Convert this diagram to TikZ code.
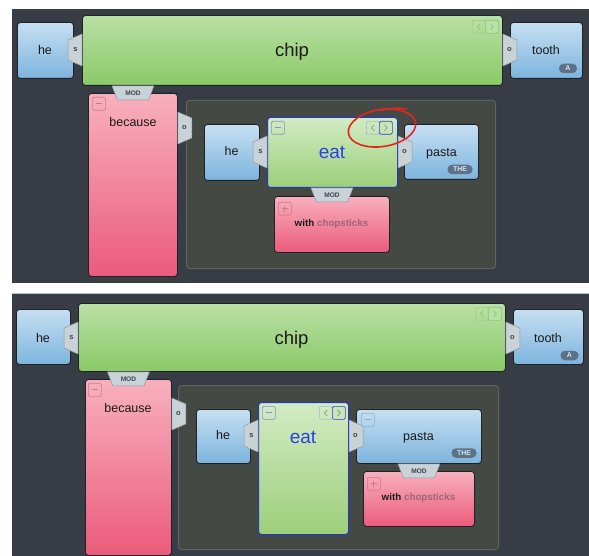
\documentclass[tikz,border=0pt]{standalone}
\usepackage{fontspec}
\setmainfont{Liberation Sans}
\usetikzlibrary{calc}
\definecolor{bg}{HTML}{383C44}
\definecolor{inner}{HTML}{454944}
\definecolor{innerline}{HTML}{5F635D}
\definecolor{bluetop}{HTML}{C6DFF2}
\definecolor{bluebot}{HTML}{7DB4DD}
\definecolor{greentop}{HTML}{B9E0A5}
\definecolor{greenbot}{HTML}{8BC968}
\definecolor{eattop}{HTML}{D2EBC4}
\definecolor{eatbot}{HTML}{9CCF7A}
\definecolor{pinktop}{HTML}{F8B0BE}
\definecolor{pinkbot}{HTML}{EB5B7B}
\definecolor{tabfill}{HTML}{C9D2D6}
\definecolor{tabline}{HTML}{8E979B}
\definecolor{tabtext}{HTML}{3D4348}
\definecolor{badgefill}{HTML}{5C7288}
\definecolor{badgetext}{HTML}{D9E3EC}
\definecolor{eatline}{HTML}{2436C4}
\definecolor{eattext}{HTML}{2A40E6}
\definecolor{boxline}{HTML}{1E2126}
\definecolor{txt}{HTML}{1A1A1A}
\definecolor{chopcol}{HTML}{9E6677}
\definecolor{pinkctl}{HTML}{D07A8A}
\definecolor{bluectl}{HTML}{8FAFCB}
\definecolor{eatctl}{HTML}{8493D0}
\definecolor{navstrong}{HTML}{3142D2}
\definecolor{navfaint}{HTML}{A9B9D6}
\definecolor{navglyph}{HTML}{8694A8}
\definecolor{chipnav}{HTML}{A2CD8C}
\definecolor{chipnav2}{HTML}{93C27C}
\definecolor{redmark}{HTML}{E3261C}
\newcommand\mkbox[6]{\node[#2, minimum width={#5-#3}, minimum height={#6-#4}, anchor=north west] (#1) at (#3,#4) {};}
\newcommand\ltab[3]{\draw[tab] ($(#1.north west)+(0,#2-16)$) -- ++(-14,6) -- ++(0,20) -- ++(14,6) -- cycle;
  \node[tablbl] (#1-lt) at ($(#1.north west)+(-6.5,#2)$) {#3};}
\newcommand\rtab[3]{\draw[tab] ($(#1.north east)+(0,#2-16)$) -- ++(14,6) -- ++(0,20) -- ++(-14,6) -- cycle;
  \node[tablbl] (#1-rt) at ($(#1.north east)+(6.5,#2)$) {#3};}
\newcommand\dtab[2]{\draw[tab] ($(#1.north |- #2.south)+(-21,0)$) -- ++(42,0) -- ++(-5.5,14) -- ++(-31,0) -- cycle;
  \node[modlbl] (#1-mod) at ($(#1.north |- #2.south)+(0,7.5)$) {MOD};}
\newcommand\ctlbox[5]{\node[ctl, draw=#4, anchor=north west] (#1) at (#2,#3) {};
  \draw[#4, line width=0.8pt] ($(#1.center)+(-3,0)$) -- ($(#1.center)+(3,0)$);
  \ifx#5p\draw[#4, line width=0.8pt] ($(#1.center)+(0,-3)$) -- ($(#1.center)+(0,3)$);\fi}
\newcommand\navpair[7]{\node[ctl, draw=#4, anchor=north west] (#1l) at (#2,#3) {};
  \node[ctl, draw=#5, fill=#7, anchor=north west] (#1r) at (#2+13,#3) {};
  \draw[#6, line width=0.7pt] ($(#1l.center)+(1.3,-3)$) -- ++(-2.6,3) -- ++(2.6,3);
  \draw[#6, line width=0.7pt] ($(#1r.center)+(-1.3,-3)$) -- ++(2.6,3) -- ++(-2.6,3);}
\begin{document}
\begin{tikzpicture}[x=1pt,y=-1pt,
  box/.style={draw=boxline, line width=0.9pt, rounded corners=3pt, inner sep=0pt},
  bluebox/.style={box, top color=bluetop, bottom color=bluebot},
  greenbox/.style={box, top color=greentop, bottom color=greenbot},
  eatbox/.style={box, draw=eatline, line width=1pt, top color=eattop, bottom color=eatbot},
  pinkbox/.style={box, top color=pinktop, bottom color=pinkbot},
  container/.style={draw=innerline, line width=1pt, fill=inner, rounded corners=3pt, inner sep=0pt},
  tab/.style={fill=tabfill, draw=tabline, line width=0.5pt, line join=round},
  tablbl/.style={font=\fontsize{7.5}{8}\selectfont\bfseries, text=tabtext, inner sep=0pt},
  modlbl/.style={font=\fontsize{6.6}{7}\selectfont\bfseries, text=tabtext, inner sep=0pt},
  lbl/.style={font=\fontsize{12.5}{14}\selectfont, text=txt, inner sep=0pt, anchor=base},
  biglbl/.style={font=\fontsize{18.5}{20}\selectfont, text=txt, inner sep=0pt, anchor=base},
  eatlbl/.style={font=\fontsize{19}{21}\selectfont, text=eattext, inner sep=0pt, anchor=base},
  wlbl/.style={font=\fontsize{9.8}{11}\selectfont\bfseries, text=txt, inner sep=0pt, anchor=base},
  badge/.style={fill=badgefill, rounded corners=4.5pt, minimum height=9.5pt, inner xsep=5.5pt, inner ysep=0pt,
    font=\fontsize{7}{7}\selectfont\bfseries, text=badgetext},
  ctl/.style={minimum size=13pt, inner sep=0pt, rounded corners=1.5pt, line width=0.7pt},
]
\useasboundingbox (0,0) rectangle (589,556);
\fill[white] (0,0) rectangle (589,556);
\begin{scope}
\clip (0,0) rectangle (589,556);
\fill[bg] (12,9) rectangle (589,283);
\fill[bg] (12,294) rectangle (589,556);
\draw[black!25, line width=0.8pt] (12,293.6) -- (589,293.6);

% ---------------- top panel ----------------
\mkbox{heA}{bluebox}{17}{22}{73}{78}
\mkbox{chipA}{greenbox}{82}{15}{502}{85}
\mkbox{toothA}{bluebox}{510}{22}{582}{78}
\mkbox{becA}{pinkbox}{88}{93}{177}{276}
\mkbox{ctrA}{container}{186}{100}{495}{268}
\mkbox{he2A}{bluebox}{204}{124}{259}{180}
\mkbox{eatA}{eatbox}{267}{117}{397}{187}
\mkbox{pastaA}{bluebox}{404}{124}{478}{179}
\mkbox{withA}{pinkbox}{274}{196}{389}{252}

\ltab{chipA}{35}{s}
\rtab{chipA}{35}{o}
\rtab{becA}{35}{o}
\ltab{eatA}{35}{s}
\rtab{eatA}{35}{o}
\dtab{becA}{chipA}
\dtab{withA}{eatA}

\node[lbl] (heAt) at (45,55) {he};
\node[biglbl] (chipAt) at (292,57) {chip};
\node[lbl] (toothAt) at (546,55) {tooth};
\node[lbl] (becAt) at (133,127) {because};
\node[lbl] (he2At) at (231.5,156) {he};
\node[eatlbl] (eatAt) at (332,158.5) {eat};
\node[lbl] (pastaAt) at (441.5,157) {pasta};
\node[wlbl] (withAt) at (331.5,226) {with \textcolor{chopcol}{chopsticks}};
\node[badge, minimum width=18pt] (badgeA1) at (568,68.5) {A};
\node[badge] (badgeA2) at (460,169.5) {THE};

\ctlbox{becAm}{92}{97}{pinkctl}{m}
\ctlbox{eatAm}{271}{121}{eatctl}{m}
\ctlbox{withAp}{278}{202}{pinkctl}{p}
\navpair{chipAn}{472}{20}{chipnav}{chipnav2}{chipnav2}{greentop}
\navpair{eatAn}{366}{121}{navfaint}{navstrong}{navglyph}{eattop!80!eatbot}

\draw[redmark, line width=1.6pt, rotate around={9:(382,128)}] (382,128) ellipse [x radius=34pt, y radius=18.5pt];
\draw[redmark, line width=1.4pt, line cap=round] (380,110.5) .. controls (392,108) and (400,107.5) .. (407,109);

% ---------------- bottom panel ----------------
\mkbox{heB}{bluebox}{16}{309}{70}{364}
\mkbox{chipB}{greenbox}{78}{303}{505}{371}
\mkbox{toothB}{bluebox}{513}{309}{583}{364}
\mkbox{becB}{pinkbox}{85}{379}{171}{555}
\mkbox{ctrB}{container}{178}{385}{498}{549}
\mkbox{he2B}{bluebox}{196}{409}{250}{463}
\mkbox{eatB}{eatbox}{258}{402}{348}{534}
\mkbox{pastaB}{bluebox}{356}{409}{481}{463}
\mkbox{withB}{pinkbox}{363}{471}{474}{526}

\ltab{chipB}{35}{s}
\rtab{chipB}{35}{o}
\rtab{becB}{35}{o}
\ltab{eatB}{34}{s}
\rtab{eatB}{34}{o}
\dtab{becB}{chipB}
\dtab{withB}{pastaB}

\node[lbl] (heBt) at (43,342) {he};
\node[biglbl] (chipBt) at (291.5,344) {chip};
\node[lbl] (toothBt) at (548,342) {tooth};
\node[lbl] (becBt) at (128,412) {because};
\node[lbl] (he2Bt) at (223,439) {he};
\node[eatlbl] (eatBt) at (303,443) {eat};
\node[lbl] (pastaBt) at (418.5,440) {pasta};
\node[wlbl] (withBt) at (418.5,500.5) {with \textcolor{chopcol}{chopsticks}};
\node[badge, minimum width=18pt] (badgeB1) at (569.5,355.5) {A};
\node[badge] (badgeB2) at (464,453) {THE};

\ctlbox{becBm}{88}{383}{pinkctl}{m}
\ctlbox{eatBm}{262}{406}{eatctl}{m}
\ctlbox{pastaBm}{361}{413}{bluectl}{m}
\ctlbox{withBp}{367}{477}{pinkctl}{p}
\navpair{chipBn}{475}{307}{chipnav}{chipnav2}{chipnav2}{greentop}
\navpair{eatBn}{319}{406}{navfaint}{navstrong}{navglyph}{eattop!80!eatbot}
\end{scope}
\end{tikzpicture}
\end{document}
